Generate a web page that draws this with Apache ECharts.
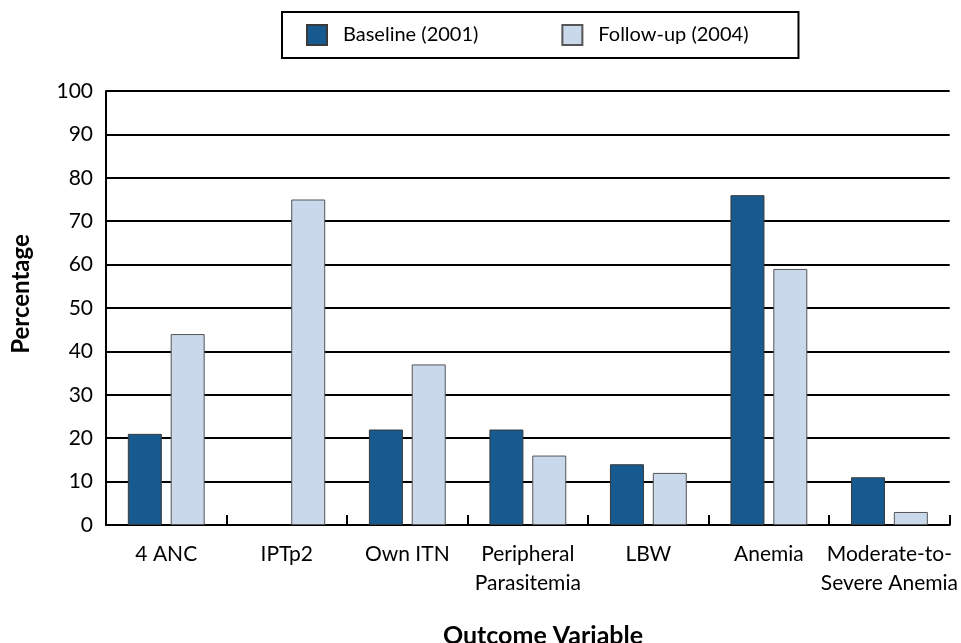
<!DOCTYPE html>
<html>
<head>
<meta charset="utf-8">
<script src="https://cdn.jsdelivr.net/npm/echarts@6/dist/echarts.min.js"></script>
<style>
  html, body { margin: 0; padding: 0; background: #fff; }
  #chart { width: 961px; height: 643px; }
</style>
</head>
<body>
<div id="chart"></div>
<script>
// Outcome categories along the x axis
var categories = [
  '4 ANC',
  'IPTp2',
  'Own ITN',
  'Peripheral\nParasitemia',
  'LBW',
  'Anemia',
  'Moderate-to-\nSevere Anemia'
];

// Percentages per survey round (null = not measured)
var baseline2001 = [21, null, 22, 22, 14, 76, 11];
var followUp2004 = [44, 75, 37, 16, 12, 59, 3];

var seriesNames = ['Baseline (2001)', 'Follow-up (2004)'];

var FONT = 'Lato, "Open Sans", sans-serif';

var chart = echarts.init(document.getElementById('chart'), null, { renderer: 'canvas' });

chart.setOption({
  animation: false,
  backgroundColor: '#ffffff',
  textStyle: { fontFamily: FONT, color: '#000' },
  grid: { left: 106, right: 11, top: 91, bottom: 118, containLabel: false },
  legend: {
    left: 282,
    top: 12,
    orient: 'horizontal',
    padding: [12, 50, 12, 24],
    borderColor: '#000',
    borderWidth: 2,
    itemWidth: 20,
    itemHeight: 20,
    itemGap: 83,
    icon: 'rect',
    textStyle: { fontFamily: FONT, fontSize: 20, color: '#000', padding: [0, 0, 0, 11] },
    data: seriesNames
  },
  xAxis: {
    type: 'category',
    data: categories,
    boundaryGap: true,
    axisLine: { show: true, lineStyle: { color: '#000', width: 2 } },
    axisTick: { show: true, inside: true, length: 10, lineStyle: { color: '#000', width: 2 } },
    axisLabel: {
      interval: 0,
      margin: 15,
      fontFamily: FONT,
      fontSize: 21,
      color: '#000',
      lineHeight: 29
    },
    splitLine: { show: false }
  },
  yAxis: {
    type: 'value',
    min: 0,
    max: 100,
    interval: 10,
    axisLine: { show: true, lineStyle: { color: '#000', width: 2 } },
    axisTick: { show: false },
    axisLabel: { margin: 13, fontFamily: FONT, fontSize: 21, color: '#000' },
    splitLine: { show: true, lineStyle: { color: '#000', width: 2 } }
  },
  graphic: [
    {
      type: 'text',
      x: 21,
      y: 294,
      rotation: Math.PI / 2,
      style: {
        text: 'Percentage',
        fontFamily: FONT,
        fontSize: 24,
        fontWeight: 'bold',
        fill: '#000',
        x: 0,
        y: 0,
        align: 'center',
        verticalAlign: 'middle'
      }
    },
    {
      type: 'text',
      x: 543,
      y: 636,
      style: {
        text: 'Outcome Variable',
        fontFamily: FONT,
        fontSize: 25,
        fontWeight: 'bold',
        fill: '#000',
        x: 0,
        y: 0,
        align: 'center',
        verticalAlign: 'middle'
      }
    }
  ],
  series: [
    {
      name: seriesNames[0],
      type: 'bar',
      data: baseline2001,
      barWidth: 34,
      barGap: '26%',
      itemStyle: { color: '#175a8f', borderColor: '#3a3a3a', borderWidth: 1 }
    },
    {
      name: seriesNames[1],
      type: 'bar',
      data: followUp2004,
      barWidth: 34,
      barGap: '26%',
      itemStyle: { color: '#c9d8ea', borderColor: '#555555', borderWidth: 1 }
    }
  ]
});
</script>
</body>
</html>
